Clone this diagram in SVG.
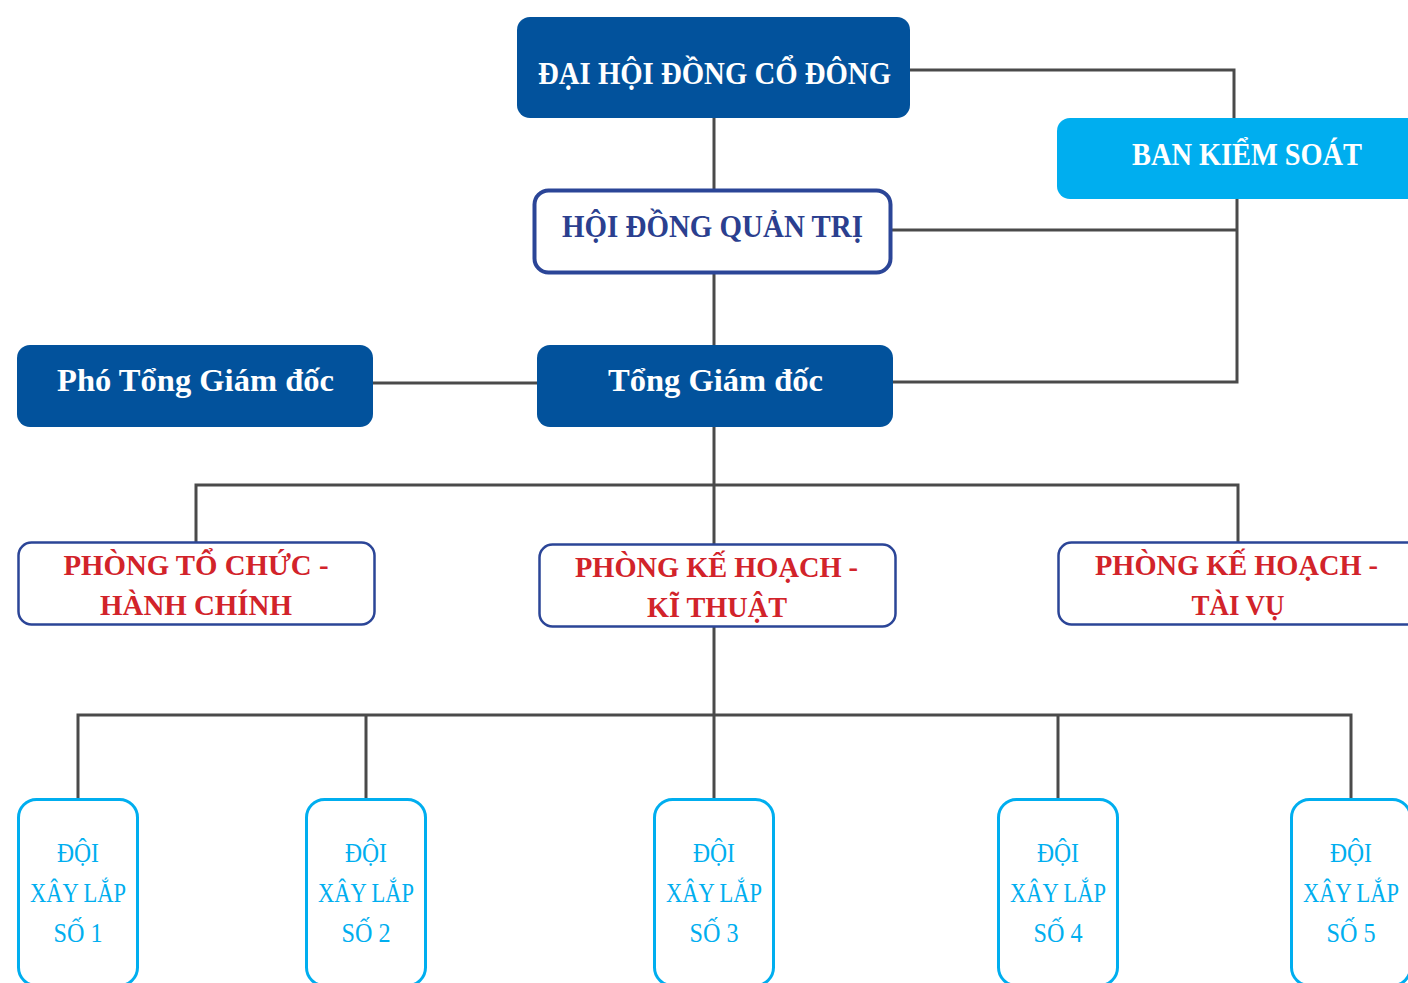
<svg xmlns="http://www.w3.org/2000/svg" width="1408" height="983" viewBox="0 0 1408 983">
<style>
.dk{fill:#02529C}
.cy{fill:#00AEEF}
.wb{fill:#ffffff;stroke:#2B4597;stroke-width:2.5}
.team{fill:#ffffff;stroke:#00AEEF;stroke-width:3}
.t{font-family:"Liberation Serif","DejaVu Serif",serif;font-weight:bold;text-anchor:middle}
.tw{fill:#ffffff;font-size:31px}
.tb{fill:#2B3F8F;font-size:31px}
.tr{fill:#D2232A;font-size:30px}
.tt{font-family:"Liberation Serif","DejaVu Serif",serif;font-size:27px;fill:#00AEEF;text-anchor:middle}
.c{fill:none;stroke:#4A4A4A;stroke-width:3}
</style>
<rect width="1408" height="983" fill="#ffffff"/>
<g id="connectors">
<path class="c" d="M714,118 V190 M714,273 V345 M714,426 V544 M714,627 V798"/>
<path class="c" d="M910,70 H1234 V118"/>
<path class="c" d="M891,230 H1237 M1237,199 V382 H892"/>
<path class="c" d="M372,383 H537"/>
<path class="c" d="M196,542 V485 H1238 V542"/>
<path class="c" d="M78,798 V715 H1351 V798 M366,715 V798 M1058,715 V798"/>
</g>
<g id="dhdcd">
<rect class="dk" x="517" y="17" width="393" height="101" rx="13"/>
<text class="t tw" x="714.5" y="84" textLength="353" lengthAdjust="spacingAndGlyphs">ĐẠI HỘI ĐỒNG CỔ ĐÔNG</text>
</g>
<g id="hdqt">
<rect x="534.5" y="190.5" width="356" height="82" rx="14" fill="#ffffff" stroke="#2B4597" stroke-width="4"/>
<text class="t tb" x="712.5" y="237" textLength="301" lengthAdjust="spacingAndGlyphs">HỘI ĐỒNG QUẢN TRỊ</text>
</g>
<g id="bks">
<rect class="cy" x="1057" y="118" width="370" height="81" rx="13"/>
<text class="t tw" x="1247" y="165" textLength="230" lengthAdjust="spacingAndGlyphs">BAN KIỂM SOÁT</text>
</g>
<g id="photgd">
<rect class="dk" x="17" y="345" width="356" height="82" rx="13"/>
<text class="t tw" x="195.5" y="391" textLength="277" lengthAdjust="spacingAndGlyphs">Phó Tổng Giám đốc</text>
</g>
<g id="tgd">
<rect class="dk" x="537" y="345" width="356" height="82" rx="13"/>
<text class="t tw" x="715.5" y="391" textLength="215" lengthAdjust="spacingAndGlyphs">Tổng Giám đốc</text>
</g>
<g id="ptchc">
<rect class="wb" x="18.5" y="542.5" width="356" height="82" rx="13"/>
<text class="t tr" x="196" y="575" textLength="265" lengthAdjust="spacingAndGlyphs">PHÒNG TỔ CHỨC -</text>
<text class="t tr" x="196" y="615" textLength="192" lengthAdjust="spacingAndGlyphs">HÀNH CHÍNH</text>
</g>
<g id="pkhkt">
<rect class="wb" x="539.5" y="544.5" width="356" height="82" rx="13"/>
<text class="t tr" x="716.5" y="577" textLength="283" lengthAdjust="spacingAndGlyphs">PHÒNG KẾ HOẠCH -</text>
<text class="t tr" x="717" y="617" textLength="140" lengthAdjust="spacingAndGlyphs">KĨ THUẬT</text>
</g>
<g id="pkhtv">
<rect class="wb" x="1058.5" y="542.5" width="370" height="82" rx="13"/>
<text class="t tr" x="1236.5" y="575" textLength="283" lengthAdjust="spacingAndGlyphs">PHÒNG KẾ HOẠCH -</text>
<text class="t tr" x="1238" y="615" textLength="93" lengthAdjust="spacingAndGlyphs">TÀI VỤ</text>
</g>
<g id="doi1">
<rect class="team" x="18.5" y="799.5" width="119" height="186" rx="18"/>
<text class="tt" x="78" y="862" textLength="42" lengthAdjust="spacingAndGlyphs">ĐỘI</text>
<text class="tt" x="78" y="902" textLength="96" lengthAdjust="spacingAndGlyphs">XÂY LẮP</text>
<text class="tt" x="78" y="942" textLength="49" lengthAdjust="spacingAndGlyphs">SỐ 1</text>
</g>
<g id="doi2">
<rect class="team" x="306.5" y="799.5" width="119" height="186" rx="18"/>
<text class="tt" x="366" y="862" textLength="42" lengthAdjust="spacingAndGlyphs">ĐỘI</text>
<text class="tt" x="366" y="902" textLength="96" lengthAdjust="spacingAndGlyphs">XÂY LẮP</text>
<text class="tt" x="366" y="942" textLength="49" lengthAdjust="spacingAndGlyphs">SỐ 2</text>
</g>
<g id="doi3">
<rect class="team" x="654.5" y="799.5" width="119" height="186" rx="18"/>
<text class="tt" x="714" y="862" textLength="42" lengthAdjust="spacingAndGlyphs">ĐỘI</text>
<text class="tt" x="714" y="902" textLength="96" lengthAdjust="spacingAndGlyphs">XÂY LẮP</text>
<text class="tt" x="714" y="942" textLength="49" lengthAdjust="spacingAndGlyphs">SỐ 3</text>
</g>
<g id="doi4">
<rect class="team" x="998.5" y="799.5" width="119" height="186" rx="18"/>
<text class="tt" x="1058" y="862" textLength="42" lengthAdjust="spacingAndGlyphs">ĐỘI</text>
<text class="tt" x="1058" y="902" textLength="96" lengthAdjust="spacingAndGlyphs">XÂY LẮP</text>
<text class="tt" x="1058" y="942" textLength="49" lengthAdjust="spacingAndGlyphs">SỐ 4</text>
</g>
<g id="doi5">
<rect class="team" x="1291.5" y="799.5" width="119" height="186" rx="18"/>
<text class="tt" x="1351" y="862" textLength="42" lengthAdjust="spacingAndGlyphs">ĐỘI</text>
<text class="tt" x="1351" y="902" textLength="96" lengthAdjust="spacingAndGlyphs">XÂY LẮP</text>
<text class="tt" x="1351" y="942" textLength="49" lengthAdjust="spacingAndGlyphs">SỐ 5</text>
</g>
</svg>
